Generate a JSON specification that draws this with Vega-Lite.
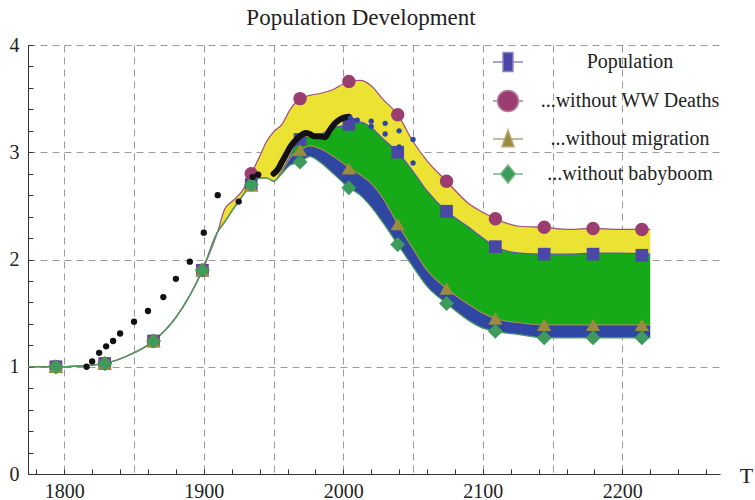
{
  "$schema": "https://vega.github.io/schema/vega-lite/v6.json",
  "width": 692,
  "height": 429,
  "autosize": {"type": "none"},
  "padding": {"left": 28, "top": 45, "right": 35, "bottom": 26},
  "background": "white",
  "config": {"view": {"stroke": null}},
  "title": {"text": "Population Development", "font": "Liberation Serif", "fontSize": 23, "fontWeight": "normal", "color": "#222", "offset": 5, "dx": -13},
  "resolve": {"scale": {"shape": "independent", "color": "independent", "stroke": "independent", "size": "independent"}},
  "datasets": {
    "curves": [
      {"year": 1774, "ww": 1.0, "pop": 1.0, "mig": 1.0, "bb": 1.0},
      {"year": 1794, "ww": 1.0, "pop": 1.0, "mig": 1.0, "bb": 1.0},
      {"year": 1810, "ww": 1.005, "pop": 1.005, "mig": 1.005, "bb": 1.005},
      {"year": 1829, "ww": 1.03, "pop": 1.03, "mig": 1.03, "bb": 1.03},
      {"year": 1845, "ww": 1.10, "pop": 1.10, "mig": 1.10, "bb": 1.10},
      {"year": 1864, "ww": 1.24, "pop": 1.24, "mig": 1.24, "bb": 1.24},
      {"year": 1880, "ww": 1.46, "pop": 1.46, "mig": 1.46, "bb": 1.46},
      {"year": 1899, "ww": 1.90, "pop": 1.90, "mig": 1.90, "bb": 1.90},
      {"year": 1910, "ww": 2.26, "pop": 2.26, "mig": 2.26, "bb": 2.26},
      {"year": 1915, "ww": 2.47, "pop": 2.35, "mig": 2.35, "bb": 2.35},
      {"year": 1921, "ww": 2.55, "pop": 2.47, "mig": 2.47, "bb": 2.47},
      {"year": 1927, "ww": 2.63, "pop": 2.58, "mig": 2.58, "bb": 2.58},
      {"year": 1934, "ww": 2.80, "pop": 2.70, "mig": 2.70, "bb": 2.70},
      {"year": 1940, "ww": 2.96, "pop": 2.76, "mig": 2.76, "bb": 2.76},
      {"year": 1945, "ww": 3.10, "pop": 2.76, "mig": 2.76, "bb": 2.76},
      {"year": 1950, "ww": 3.19, "pop": 2.73, "mig": 2.73, "bb": 2.73},
      {"year": 1956, "ww": 3.26, "pop": 2.83, "mig": 2.82, "bb": 2.80},
      {"year": 1962, "ww": 3.40, "pop": 2.97, "mig": 2.95, "bb": 2.88},
      {"year": 1969, "ww": 3.50, "pop": 3.12, "mig": 3.02, "bb": 2.91},
      {"year": 1976, "ww": 3.53, "pop": 3.14, "mig": 3.06, "bb": 2.96},
      {"year": 1984, "ww": 3.55, "pop": 3.17, "mig": 3.03, "bb": 2.90},
      {"year": 1992, "ww": 3.58, "pop": 3.22, "mig": 2.97, "bb": 2.81},
      {"year": 2004, "ww": 3.66, "pop": 3.26, "mig": 2.86, "bb": 2.67},
      {"year": 2012, "ww": 3.67, "pop": 3.28, "mig": 2.79, "bb": 2.60},
      {"year": 2020, "ww": 3.62, "pop": 3.23, "mig": 2.71, "bb": 2.49},
      {"year": 2028, "ww": 3.50, "pop": 3.13, "mig": 2.58, "bb": 2.35},
      {"year": 2039, "ww": 3.35, "pop": 3.00, "mig": 2.33, "bb": 2.14},
      {"year": 2050, "ww": 3.10, "pop": 2.82, "mig": 2.10, "bb": 1.93},
      {"year": 2060, "ww": 2.92, "pop": 2.64, "mig": 1.90, "bb": 1.75},
      {"year": 2074, "ww": 2.73, "pop": 2.45, "mig": 1.73, "bb": 1.59},
      {"year": 2090, "ww": 2.52, "pop": 2.30, "mig": 1.58, "bb": 1.43},
      {"year": 2100, "ww": 2.44, "pop": 2.20, "mig": 1.50, "bb": 1.36},
      {"year": 2109, "ww": 2.38, "pop": 2.12, "mig": 1.45, "bb": 1.33},
      {"year": 2126, "ww": 2.31, "pop": 2.06, "mig": 1.41, "bb": 1.30},
      {"year": 2144, "ww": 2.30, "pop": 2.05, "mig": 1.39, "bb": 1.27},
      {"year": 2162, "ww": 2.28, "pop": 2.05, "mig": 1.39, "bb": 1.27},
      {"year": 2179, "ww": 2.29, "pop": 2.06, "mig": 1.39, "bb": 1.27},
      {"year": 2197, "ww": 2.28, "pop": 2.06, "mig": 1.39, "bb": 1.27},
      {"year": 2220, "ww": 2.28, "pop": 2.05, "mig": 1.39, "bb": 1.27}
    ],
    "markers": [
      {"year": 1794, "v": 1.0, "series": "Population"},
      {"year": 1829, "v": 1.03, "series": "Population"},
      {"year": 1864, "v": 1.24, "series": "Population"},
      {"year": 1899, "v": 1.90, "series": "Population"},
      {"year": 1934, "v": 2.70, "series": "Population"},
      {"year": 1969, "v": 3.12, "series": "Population"},
      {"year": 2004, "v": 3.26, "series": "Population"},
      {"year": 2039, "v": 3.00, "series": "Population"},
      {"year": 2074, "v": 2.45, "series": "Population"},
      {"year": 2109, "v": 2.12, "series": "Population"},
      {"year": 2144, "v": 2.05, "series": "Population"},
      {"year": 2179, "v": 2.05, "series": "Population"},
      {"year": 2214, "v": 2.04, "series": "Population"},
      {"year": 1794, "v": 1.0, "series": "...without WW Deaths"},
      {"year": 1829, "v": 1.03, "series": "...without WW Deaths"},
      {"year": 1864, "v": 1.24, "series": "...without WW Deaths"},
      {"year": 1899, "v": 1.90, "series": "...without WW Deaths"},
      {"year": 1934, "v": 2.80, "series": "...without WW Deaths"},
      {"year": 1969, "v": 3.50, "series": "...without WW Deaths"},
      {"year": 2004, "v": 3.66, "series": "...without WW Deaths"},
      {"year": 2039, "v": 3.35, "series": "...without WW Deaths"},
      {"year": 2074, "v": 2.73, "series": "...without WW Deaths"},
      {"year": 2109, "v": 2.38, "series": "...without WW Deaths"},
      {"year": 2144, "v": 2.30, "series": "...without WW Deaths"},
      {"year": 2179, "v": 2.29, "series": "...without WW Deaths"},
      {"year": 2214, "v": 2.28, "series": "...without WW Deaths"},
      {"year": 1794, "v": 1.0, "series": "...without migration"},
      {"year": 1829, "v": 1.03, "series": "...without migration"},
      {"year": 1864, "v": 1.24, "series": "...without migration"},
      {"year": 1899, "v": 1.90, "series": "...without migration"},
      {"year": 1934, "v": 2.69, "series": "...without migration"},
      {"year": 1969, "v": 3.02, "series": "...without migration"},
      {"year": 2004, "v": 2.85, "series": "...without migration"},
      {"year": 2039, "v": 2.33, "series": "...without migration"},
      {"year": 2074, "v": 1.73, "series": "...without migration"},
      {"year": 2109, "v": 1.45, "series": "...without migration"},
      {"year": 2144, "v": 1.39, "series": "...without migration"},
      {"year": 2179, "v": 1.39, "series": "...without migration"},
      {"year": 2214, "v": 1.39, "series": "...without migration"},
      {"year": 1794, "v": 1.0, "series": "...without babyboom"},
      {"year": 1829, "v": 1.03, "series": "...without babyboom"},
      {"year": 1864, "v": 1.24, "series": "...without babyboom"},
      {"year": 1899, "v": 1.90, "series": "...without babyboom"},
      {"year": 1934, "v": 2.70, "series": "...without babyboom"},
      {"year": 1969, "v": 2.91, "series": "...without babyboom"},
      {"year": 2004, "v": 2.67, "series": "...without babyboom"},
      {"year": 2039, "v": 2.14, "series": "...without babyboom"},
      {"year": 2074, "v": 1.59, "series": "...without babyboom"},
      {"year": 2109, "v": 1.33, "series": "...without babyboom"},
      {"year": 2144, "v": 1.27, "series": "...without babyboom"},
      {"year": 2179, "v": 1.27, "series": "...without babyboom"},
      {"year": 2214, "v": 1.27, "series": "...without babyboom"}
    ],
    "histdots": [
      {"year": 1816, "v": 1.0}, {"year": 1820, "v": 1.05}, {"year": 1825, "v": 1.13},
      {"year": 1830, "v": 1.19}, {"year": 1835, "v": 1.24}, {"year": 1840, "v": 1.31},
      {"year": 1850, "v": 1.42}, {"year": 1860, "v": 1.52}, {"year": 1871, "v": 1.65},
      {"year": 1880, "v": 1.82}, {"year": 1890, "v": 1.98}, {"year": 1900, "v": 2.25},
      {"year": 1910, "v": 2.60}, {"year": 1925, "v": 2.54}, {"year": 1935, "v": 2.77},
      {"year": 1939, "v": 2.79}
    ],
    "histline": [
      {"year": 1950, "v": 2.80}, {"year": 1953, "v": 2.84}, {"year": 1956, "v": 2.91},
      {"year": 1959, "v": 2.98}, {"year": 1962, "v": 3.05}, {"year": 1965, "v": 3.10},
      {"year": 1969, "v": 3.15}, {"year": 1973, "v": 3.18}, {"year": 1976, "v": 3.17},
      {"year": 1979, "v": 3.15}, {"year": 1983, "v": 3.15}, {"year": 1987, "v": 3.14},
      {"year": 1990, "v": 3.20}, {"year": 1994, "v": 3.27}, {"year": 1997, "v": 3.30},
      {"year": 2000, "v": 3.32}, {"year": 2004, "v": 3.33}
    ],
    "proj": [
      {"year": 2005, "v": 3.32}, {"year": 2010, "v": 3.30}, {"year": 2020, "v": 3.29},
      {"year": 2030, "v": 3.27}, {"year": 2040, "v": 3.20}, {"year": 2050, "v": 3.12},
      {"year": 2020, "v": 3.24}, {"year": 2030, "v": 3.17}, {"year": 2040, "v": 3.05},
      {"year": 2050, "v": 2.90}
    ]
  },
  "encoding": {
    "x": {
      "field": "year", "type": "quantitative",
      "scale": {"domain": [1774, 2270], "nice": false, "zero": false},
      "axis": {
        "values": [1780,1790,1800,1810,1820,1830,1840,1850,1860,1870,1880,1890,1900,1910,1920,1930,1940,1950,1960,1970,1980,1990,2000,2010,2020,2030,2040,2050,2060,2070,2080,2090,2100,2110,2120,2130,2140,2150,2160,2170,2180,2190,2200,2210,2220,2230,2240,2250,2260],
        "tickCount": 500,
        "labelExpr": "datum.value % 100 === 0 ? '' + datum.value : ''",
        "labelOverlap": false, "labelFlush": false,
        "labelFont": "Liberation Serif", "labelFontSize": 20, "labelColor": "#222",
        "labelPadding": 12,
        "tickSize": -5, "tickColor": "#333",
        "tickOpacity": {"condition": {"test": "datum.value % 20 === 0", "value": 1}, "value": 0},
        "grid": true, "gridDash": [7, 5], "gridColor": "#9a9a9a", "gridWidth": 1,
        "gridOpacity": {"condition": {"test": "datum.value % 50 === 0 && datum.value <= 2200", "value": 1}, "value": 0},
        "domainColor": "#333",
        "title": "T", "titleFont": "Liberation Serif", "titleFontSize": 22, "titleFontWeight": "normal", "titleColor": "#222",
        "titleX": 718, "titleY": 1, "titleAlign": "center", "titleBaseline": "middle", "titleAngle": 0
      }
    }
  },
  "layer": [
    {
      "data": {"name": "curves"},
      "mark": {"type": "area", "interpolate": "monotone", "color": "#ECE233"},
      "encoding": {
        "y": {
          "field": "ww", "type": "quantitative", "title": null,
          "scale": {"domain": [0, 4], "nice": false, "zero": false},
          "axis": {
            "values": [0,0.2,0.4,0.6,0.8,1,1.2,1.4,1.6,1.8,2,2.2,2.4,2.6,2.8,3,3.2,3.4,3.6,3.8,4],
            "tickCount": 500,
            "labelExpr": "datum.value % 1 === 0 ? '' + datum.value : ''",
            "labelOverlap": false, "labelFlush": false,
            "labelFont": "Liberation Serif", "labelFontSize": 20, "labelColor": "#222",
            "labelPadding": 14,
            "tickSize": -5, "tickColor": "#333",
            "grid": true, "gridDash": [7, 5], "gridColor": "#9a9a9a", "gridWidth": 1,
            "gridOpacity": {"condition": {"test": "datum.value % 1 === 0 && datum.value > 0", "value": 1}, "value": 0},
            "domainColor": "#333"
          }
        },
        "y2": {"field": "pop"}
      }
    },
    {
      "data": {"name": "curves"},
      "mark": {"type": "area", "interpolate": "monotone", "color": "#16A918"},
      "encoding": {"y": {"field": "pop", "type": "quantitative", "title": null}, "y2": {"field": "mig"}}
    },
    {
      "data": {"name": "curves"},
      "mark": {"type": "area", "interpolate": "monotone", "color": "#2F46A2"},
      "encoding": {"y": {"field": "mig", "type": "quantitative", "title": null}, "y2": {"field": "bb"}}
    },
    {
      "data": {"name": "curves"},
      "mark": {"type": "line", "interpolate": "monotone", "color": "#9E4C82", "strokeWidth": 1.2},
      "encoding": {"y": {"field": "ww", "type": "quantitative", "title": null}}
    },
    {
      "data": {"name": "curves"},
      "mark": {"type": "line", "interpolate": "monotone", "color": "#5555B5", "strokeWidth": 1.2},
      "encoding": {"y": {"field": "pop", "type": "quantitative", "title": null}}
    },
    {
      "data": {"name": "curves"},
      "mark": {"type": "line", "interpolate": "monotone", "color": "#A08F4C", "strokeWidth": 1.2},
      "encoding": {"y": {"field": "mig", "type": "quantitative", "title": null}}
    },
    {
      "data": {"name": "curves"},
      "mark": {"type": "line", "interpolate": "monotone", "color": "#4A9D5E", "strokeWidth": 1.2},
      "encoding": {"y": {"field": "bb", "type": "quantitative", "title": null}}
    },
    {
      "data": {"name": "markers"},
      "mark": {"type": "point", "filled": true, "opacity": 1},
      "encoding": {
        "y": {"field": "v", "type": "quantitative", "title": null},
        "color": {
          "field": "series", "type": "nominal", "sort": null, "legend": null,
          "scale": {"domain": ["Population", "...without WW Deaths", "...without migration", "...without babyboom"], "range": ["#4B47A6", "#9B3D70", "#9C8A3F", "#3D9B5C"]}
        },
        "shape": {
          "field": "series", "type": "nominal", "sort": null, "legend": null,
          "scale": {"domain": ["Population", "...without WW Deaths", "...without migration", "...without babyboom"], "range": ["square", "circle", "triangle-up", "diamond"]}
        },
        "size": {
          "field": "series", "type": "ordinal", "sort": null, "legend": null,
          "scale": {"domain": ["Population", "...without WW Deaths", "...without migration", "...without babyboom"], "range": [160, 225, 180, 170]}
        }
      }
    },
    {
      "data": {"name": "markers"},
      "mark": {"type": "point", "filled": true, "opacity": 0, "strokeWidth": 1.5},
      "encoding": {
        "y": {"field": "v", "type": "quantitative", "title": null},
        "color": {
          "field": "series", "type": "nominal", "sort": null,
          "scale": {"domain": ["Population", "...without WW Deaths", "...without migration", "...without babyboom"], "range": ["#4B47A6", "#9B3D70", "#9C8A3F", "#3D9B5C"]},
          "legend": {
            "orient": "none", "legendX": 469, "legendY": 6, "title": null,
            "labelFont": "Liberation Serif", "labelFontSize": 20, "labelColor": "#222", "labelLimit": 400,
            "labelAlign": "center", "labelOffset": 111, "rowPadding": 12,
            "symbolSize": 400, "symbolStrokeWidth": 1.5, "symbolOpacity": 1
          }
        },
        "stroke": {
          "field": "series", "type": "nominal", "sort": null,
          "scale": {"domain": ["Population", "...without WW Deaths", "...without migration", "...without babyboom"], "range": ["#8A86C8", "#B97A9B", "#B5A774", "#78B98A"]},
          "legend": {
            "orient": "none", "legendX": 469, "legendY": 6, "title": null,
            "labelFont": "Liberation Serif", "labelFontSize": 20, "labelColor": "#222", "labelLimit": 400,
            "labelAlign": "center", "labelOffset": 111, "rowPadding": 12,
            "symbolSize": 400, "symbolStrokeWidth": 1.5, "symbolOpacity": 1
          }
        },
        "shape": {
          "field": "series", "type": "nominal", "sort": null,
          "scale": {"domain": ["Population", "...without WW Deaths", "...without migration", "...without babyboom"], "range": ["M-1.5,0H-0.5M0.5,0H1.5M-0.5,-0.95H0.5V0.95H-0.5Z", "M-1.5,0H-1.05M1.05,0H1.5M-1.05,0A1.05,1.05,0,1,1,1.05,0A1.05,1.05,0,1,1,-1.05,0Z", "M-1.5,0H-0.32M0.32,0H1.5M0,-0.9L0.6,0.77L-0.6,0.77Z", "M-1.5,0H-0.75M0.75,0H1.5M0,-0.9L0.75,0L0,0.9L-0.75,0Z"]},
          "legend": {
            "orient": "none", "legendX": 469, "legendY": 6, "title": null,
            "labelFont": "Liberation Serif", "labelFontSize": 20, "labelColor": "#222", "labelLimit": 400,
            "labelAlign": "center", "labelOffset": 111, "rowPadding": 12,
            "symbolSize": 400, "symbolStrokeWidth": 1.5, "symbolOpacity": 1
          }
        }
      }
    },
    {
      "data": {"name": "histdots"},
      "mark": {"type": "circle", "color": "#111", "size": 40, "opacity": 1},
      "encoding": {"y": {"field": "v", "type": "quantitative", "title": null}}
    },
    {
      "data": {"name": "histline"},
      "mark": {"type": "line", "color": "#111", "strokeWidth": 6, "strokeCap": "round", "strokeJoin": "round", "interpolate": "monotone"},
      "encoding": {"y": {"field": "v", "type": "quantitative", "title": null}}
    },
    {
      "data": {"name": "proj"},
      "mark": {"type": "circle", "color": "#2E45A8", "size": 28, "opacity": 1},
      "encoding": {"y": {"field": "v", "type": "quantitative", "title": null}}
    }
  ]
}
